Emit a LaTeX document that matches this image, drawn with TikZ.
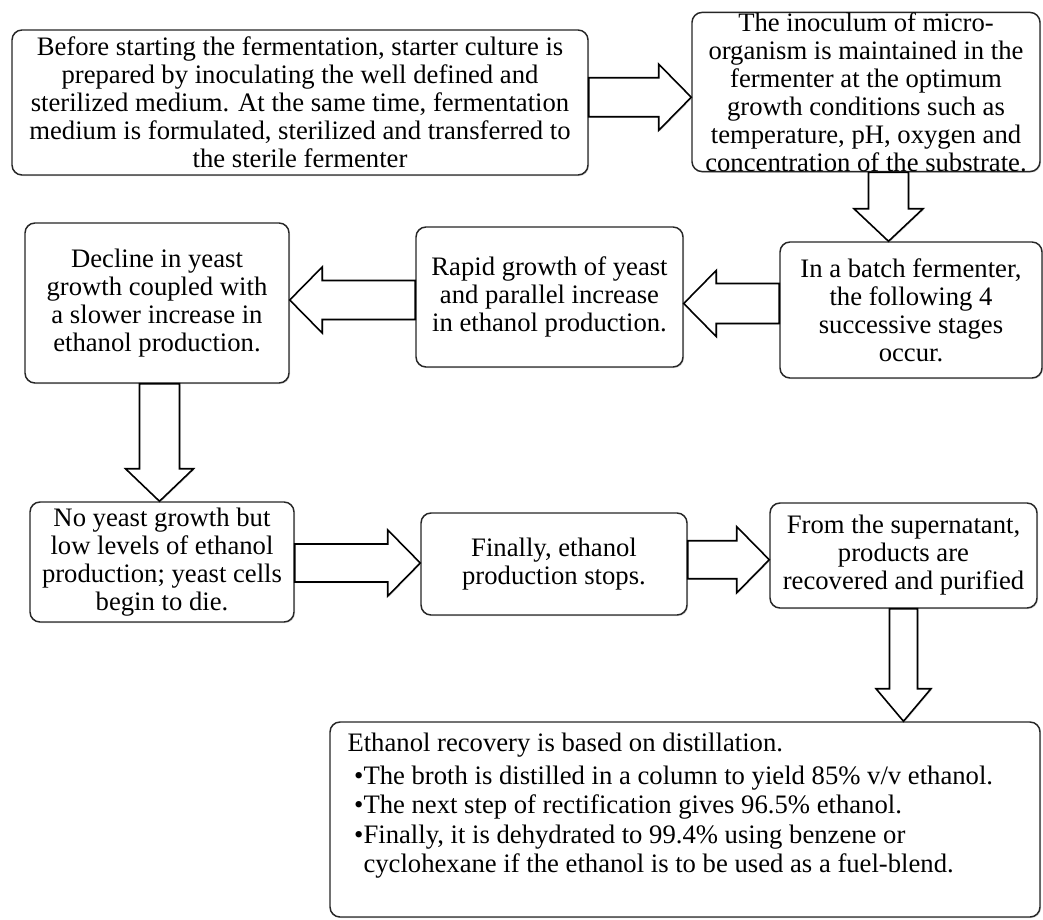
\documentclass[tikz,border=0pt]{standalone}
\usepackage{fontspec}
\setmainfont{Liberation Serif}
\usepackage{tikz}
\usetikzlibrary{arrows.meta, positioning, calc, shadows}

\newcommand{\stagefont}{\fontsize{20pt}{21pt}\selectfont}
\newcommand{\bul}{\hspace*{5pt}\makebox[7pt][l]{\textbullet}}

\begin{document}
\begin{tikzpicture}[x=0.75pt,y=-0.75pt,
  stage/.style={draw=black!85,line width=1.1pt,rounded corners=7.5pt,fill=white,
    drop shadow={opacity=0.3,shadow xshift=0.8pt,shadow yshift=-0.8pt},
    align=center,font=\stagefont,inner sep=2pt},
  arrow body/.store in=\arrbody,
  arrow head/.store in=\arrhead,
  arrow len/.store in=\arrlen,
  blockarrow/.style={draw=black,line width=1.2pt,fill=white,line join=miter,
    drop shadow={opacity=0.3,shadow xshift=0.8pt,shadow yshift=-0.8pt},
    arrow body=14.6pt,arrow head=24.8pt,arrow len=24.4pt,
    to path={
      ($(\tikztostart)!\arrbody!90:(\tikztotarget)$)
      -- ($($(\tikztotarget)!\arrlen!(\tikztostart)$)!\arrbody!90:(\tikztotarget)$)
      -- ($($(\tikztotarget)!\arrlen!(\tikztostart)$)!\arrhead!90:(\tikztotarget)$)
      -- (\tikztotarget)
      -- ($($(\tikztotarget)!\arrlen!(\tikztostart)$)!\arrhead!-90:(\tikztotarget)$)
      -- ($($(\tikztotarget)!\arrlen!(\tikztostart)$)!\arrbody!-90:(\tikztotarget)$)
      -- ($(\tikztostart)!\arrbody!-90:(\tikztotarget)$)
      -- cycle}}]
  \useasboundingbox (0,0) rectangle (1043,920);

  \node[stage,minimum width=432pt,minimum height=108.75pt] (prep) at (300,102.5)
    {Before starting the fermentation, starter culture is\\
     prepared by inoculating the well defined and\\
     sterilized medium. At the same time, fermentation\\
     medium is formulated, sterilized and transferred to\\
     the sterile fermenter};
  \node[stage,minimum width=261pt,minimum height=118.5pt,inner sep=0pt] (inoc) at (866,92)
    {The inoculum of micro-\\
     organism is maintained in the\\
     fermenter at the optimum\\
     growth conditions such as\\
     temperature, pH, oxygen and\\
     concentration of the substrate.};
  \node[stage,minimum width=196.5pt,minimum height=102pt] (batch) at (911,310)
    {In a batch fermenter,\\the following 4\\successive stages\\occur.};
  \node[stage,minimum width=200.25pt,minimum height=105pt] (rapid) at (549.5,297)
    {Rapid growth of yeast\\and parallel increase\\in ethanol production.};
  \node[stage,minimum width=198pt,minimum height=120pt] (decl) at (157,303)
    {Decline in yeast\\growth coupled with\\a slower increase in\\ethanol production.};
  \node[stage,minimum width=198pt,minimum height=90pt] (noyst) at (162,562)
    {No yeast growth but\\low levels of ethanol\\production; yeast cells\\begin to die.};
  \node[stage,minimum width=199.5pt,minimum height=76.5pt] (stop) at (554,564)
    {Finally, ethanol\\production stops.};
  \node[stage,minimum width=200.25pt,minimum height=78.75pt] (super) at (903.5,555.5)
    {From the supernatant,\\products are\\recovered and purified};
  \node[stage,minimum width=532.5pt,minimum height=146.25pt] (recov) at (685,819.5) {};
  \node[anchor=north west,align=left,inner sep=0pt,font=\fontsize{20pt}{22pt}\selectfont]
    (rectxt) at ($(recov.north west)+(18,11)$)
    {Ethanol recovery is based on distillation.\\[3pt]
     \bul The broth is distilled in a column to yield 85\% v/v ethanol.\\
     \bul The next step of rectification gives 96.5\% ethanol.\\
     \bul Finally, it is dehydrated to 99.4\% using benzene or\\
     \hspace*{12pt}cyclohexane if the ethanol is to be used as a fuel-blend.};

  \coordinate (m12) at ($(prep.east)!.5!(inoc.west)$);
  \draw[blockarrow] (prep.east |- m12) to (inoc.west |- m12);
  \coordinate (m23) at ($(inoc.south)!.5!(batch.north)$);
  \draw[blockarrow,arrow body=15pt,arrow head=25.9pt] (m23 |- inoc.south) to (m23 |- batch.north);
  \coordinate (m34) at ($(batch.west)!.5!(rapid.east)$);
  \draw[blockarrow,arrow body=15pt] (batch.west |- m34) to (rapid.east |- m34);
  \coordinate (m45) at ($(rapid.west)!.5!(decl.east)$);
  \draw[blockarrow] (rapid.west |- m45) to (decl.east |- m45);
  \coordinate (m56) at ($(decl.south)!.5!(noyst.north)$);
  \draw[blockarrow,arrow body=15pt,arrow head=25.5pt] (m56 |- decl.south) to (m56 |- noyst.north);
  \coordinate (m67) at ($(noyst.east)!.5!(stop.west)$);
  \draw[blockarrow,arrow body=14.25pt] (noyst.east |- m67) to (stop.west |- m67);
  \coordinate (m78) at ($(stop.east)!.5!(super.west)$);
  \draw[blockarrow,arrow body=14.25pt] (stop.east |- m78) to (super.west |- m78);
  \draw[blockarrow,arrow body=10.5pt,arrow head=20.6pt] (super.south) to (super.south |- recov.north);
\end{tikzpicture}
\end{document}
